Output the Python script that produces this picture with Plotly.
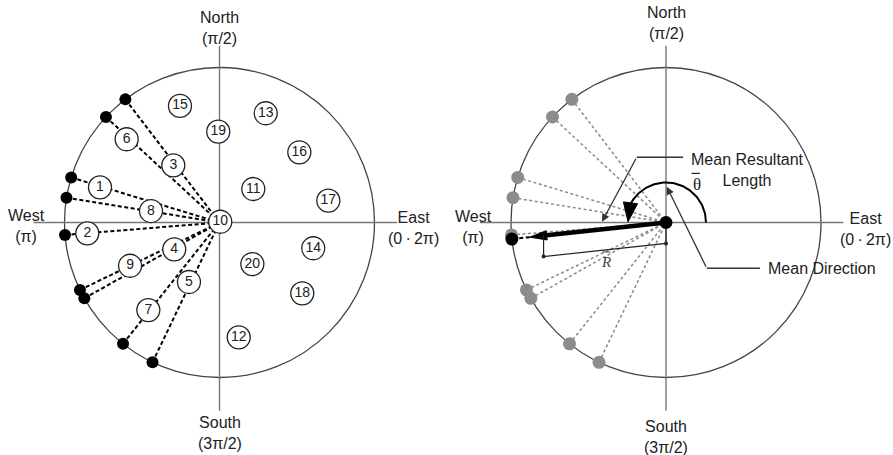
import numpy as np
import plotly.graph_objects as go

# ---------------- data ----------------
subject_ids = [str(i) for i in range(1, 21)]
subject_x = [-0.771, -0.853, -0.298, -0.292, -0.197, -0.599, -0.459, -0.442, -0.577, 0.005,
             0.218, 0.124, 0.298, 0.605, -0.255, 0.515, 0.702, 0.534, -0.008, 0.212]
subject_y = [0.227, -0.070, 0.369, -0.173, -0.384, 0.537, -0.565, 0.074, -0.279, 0.005,
             0.216, -0.741, 0.705, -0.166, 0.752, 0.453, 0.141, -0.457, 0.586, -0.268]
dir_ids = [1, 2, 3, 4, 5, 6, 7, 8, 9]
dir_deg = [163.1, 184.6, 127.4, 209.3, 244.4, 137.1, 231.5, 170.8, 205.8]

compass_text = ["North<br>(π/2)", "South<br>(3π/2)", "West<br>(π)", "East<br>(0\u2009·\u20092π)"]
annot_text = ["Mean Resultant<br>Length", "Mean Direction"]

# ---------------- geometry / style ----------------
SCALE = 155.0               # px per unit radius
W, H = 893, 455
LCX, LCY = 219.5, 222.5     # pixel of left centre
C1 = 0.0
C2 = (666.0 - LCX) / SCALE  # right panel centre (data units)

FONT = "Liberation Sans, Arial, sans-serif"
SERIF = "Liberation Serif, Times New Roman, serif"
TXT = "#222222"

th = np.radians(dir_deg)
cx, sy = np.cos(th), np.sin(th)
Cbar, Sbar = cx.mean(), sy.mean()
Rbar = float(np.hypot(Cbar, Sbar))
phi = float(np.arctan2(Sbar, Cbar))
ux, uy = np.cos(phi), np.sin(phi)

fig = go.Figure()


def seg_trace(segs, color, width, dash, name=""):
    xs, ys = [], []
    for (x0, y0, x1, y1) in segs:
        xs += [x0, x1, None]
        ys += [y0, y1, None]
    return go.Scatter(x=xs, y=ys, mode="lines", line=dict(color=color, width=width, dash=dash),
                      hoverinfo="skip", name=name)


def tri(tip, base, hw):
    dx, dy = tip[0] - base[0], tip[1] - base[1]
    L = np.hypot(dx, dy)
    nx, ny = -dy / L * hw, dx / L * hw
    return [base[0] + nx, tip[0], base[0] - nx, base[0] + nx], [base[1] + ny, tip[1], base[1] - ny, base[1] + ny]


# ---- left panel: dashed lines from centre (subject 10) to projected directions
fig.add_trace(seg_trace([(C1 + c, s, C1 + 0.0, 0.0) for c, s in zip(cx, sy)],
                        "black", 2.0, "4px,2.5px"))
fig.add_trace(go.Scatter(x=C1 + cx, y=sy, mode="markers",
                         marker=dict(size=12, color="black"), hoverinfo="skip"))
fig.add_trace(go.Scatter(x=[C1 + v for v in subject_x], y=subject_y, mode="markers+text",
                         text=subject_ids, textposition="middle center",
                         textfont=dict(family=FONT, size=14, color=TXT),
                         marker=dict(size=23, color="white", line=dict(color="#222", width=1.3)),
                         hoverinfo="skip"))

# ---- right panel
fig.add_trace(seg_trace([(C2 + c, s, C2, 0.0) for c, s in zip(cx, sy)],
                        "#8a8a8a", 1.5, "3px,2.5px"))
fig.add_trace(go.Scatter(x=C2 + cx, y=sy, mode="markers",
                         marker=dict(size=13, color="#8c8c8c"), hoverinfo="skip"))

# mean resultant vector
L_tip = Rbar + 0.09
head_len = 0.11
tip = (C2 + ux * L_tip, uy * L_tip)
base = (C2 + ux * (L_tip - head_len), uy * (L_tip - head_len))
fig.add_trace(seg_trace([(tip[0], tip[1], C2 + ux, uy)], "black", 2.0, "4px,2.5px"))
fig.add_trace(go.Scatter(x=[C2 + ux], y=[uy], mode="markers",
                         marker=dict(size=13, color="black"), hoverinfo="skip"))
fig.add_trace(go.Scatter(x=[C2, base[0]], y=[0, base[1]], mode="lines",
                         line=dict(color="black", width=4.5), hoverinfo="skip"))
txs, tys = tri(tip, base, 0.03)
fig.add_trace(go.Scatter(x=txs, y=tys, mode="lines", fill="toself", fillcolor="black",
                         line=dict(color="black", width=1), hoverinfo="skip"))

# bracket showing R-bar
off = 0.135
Rx, Ry = C2 + ux * Rbar, uy * Rbar
fig.add_trace(go.Scatter(x=[C2, C2, Rx, Rx], y=[0, -off, Ry - off, Ry], mode="lines",
                         line=dict(color="#222", width=1.2), hoverinfo="skip"))
fig.add_trace(go.Scatter(x=[C2, Rx], y=[-off, Ry - off], mode="markers",
                         marker=dict(size=4, color="#222"), hoverinfo="skip"))

# centre dot
fig.add_trace(go.Scatter(x=[C2], y=[0], mode="markers",
                         marker=dict(size=13, color="black"), hoverinfo="skip"))

# mean direction arc
ra = 0.258
arc_t = np.radians(np.linspace(0, 151, 80))
fig.add_trace(go.Scatter(x=C2 + ra * np.cos(arc_t), y=ra * np.sin(arc_t), mode="lines",
                         line=dict(color="black", width=2), hoverinfo="skip"))
a_tip = (C2 + 0.245 * np.cos(np.radians(179)), 0.245 * np.sin(np.radians(179)))
a_base = (C2 + 0.262 * np.cos(np.radians(151)), 0.262 * np.sin(np.radians(151)))
axs, ays = tri(a_tip, a_base, 0.046)
fig.add_trace(go.Scatter(x=axs, y=ays, mode="lines", fill="toself", fillcolor="black",
                         line=dict(color="black", width=1), hoverinfo="skip"))

# leader lines
fig.add_trace(go.Scatter(x=[C2 + 0.110, C2 - 0.189], y=[0.421, 0.421], mode="lines",
                         line=dict(color="#333", width=1.3), hoverinfo="skip"))
fig.add_trace(go.Scatter(x=[C2 + 0.606, C2 + 0.263], y=[-0.295, -0.295], mode="lines",
                         line=dict(color="#333", width=1.3), hoverinfo="skip"))

annotations = []
annotations.append(dict(x=C2 - 0.413, y=0.005, ax=C2 - 0.189, ay=0.421, xref="x", yref="y",
                        axref="x", ayref="y", text="", showarrow=True, arrowhead=2,
                        arrowsize=1.2, arrowwidth=1.3, arrowcolor="#333", standoff=0))
annotations.append(dict(x=C2 + 0.005, y=0.231, ax=C2 + 0.263, ay=-0.295, xref="x", yref="y",
                        axref="x", ayref="y", text="", showarrow=True, arrowhead=2,
                        arrowsize=1.2, arrowwidth=1.3, arrowcolor="#333", standoff=0))

# compass labels (per panel positions)
label_pos = {
    C1: [(0.0, 1.258), (0.0, -1.358), (-1.244, -0.021), (1.253, -0.037)],
    C2: [(0.0, 1.289), (0.0, -1.384), (-1.242, -0.027), (1.284, -0.041)],
}
for c0, poss in label_pos.items():
    for t, (px, py) in zip(compass_text, poss):
        annotations.append(dict(x=c0 + px, y=py, xref="x", yref="y", text=t, showarrow=False,
                                xanchor="center", yanchor="middle", align="center",
                                font=dict(family=FONT, size=16, color=TXT)))

annotations.append(dict(x=C2 + 0.523, y=0.341, xref="x", yref="y", text=annot_text[0],
                        showarrow=False, xanchor="center", yanchor="middle", align="center",
                        font=dict(family=FONT, size=16, color=TXT)))
annotations.append(dict(x=C2 + 0.645, y=-0.295, xref="x", yref="y", text=annot_text[1],
                        showarrow=False, xanchor="left", yanchor="middle",
                        font=dict(family=FONT, size=16, color=TXT)))
annotations.append(dict(x=C2 + 0.197, y=0.245, xref="x", yref="y", text="θ",
                        showarrow=False, xanchor="center", yanchor="middle",
                        font=dict(family=SERIF, size=17, color=TXT)))
annotations.append(dict(x=C2 - 0.385, y=-0.252, xref="x", yref="y", text="<i>R</i>",
                        showarrow=False, xanchor="center", yanchor="middle",
                        font=dict(family=SERIF, size=15, color="#444")))

shapes = []
for c0 in (C1, C2):
    shapes.append(dict(type="circle", xref="x", yref="y", x0=c0 - 1, x1=c0 + 1, y0=-1, y1=1,
                       line=dict(color="#444", width=1.3), layer="below"))
    shapes.append(dict(type="line", xref="x", yref="y", x0=c0 - 1.2, x1=c0 + 1.145, y0=0, y1=0,
                       line=dict(color="#777", width=1.4), layer="below"))
    shapes.append(dict(type="line", xref="x", yref="y", x0=c0, x1=c0, y0=1.14, y1=-1.215,
                       line=dict(color="#777", width=1.4), layer="below"))
# overbars for theta-bar and R-bar
shapes.append(dict(type="line", xref="x", yref="y", x0=C2 + 0.165, x1=C2 + 0.219,
                   y0=0.317, y1=0.317, line=dict(color=TXT, width=1.2)))
shapes.append(dict(type="line", xref="x", yref="y", x0=C2 - 0.41, x1=C2 - 0.358,
                   y0=-0.19, y1=-0.19, line=dict(color="#555", width=1.1)))

fig.update_layout(
    width=W, height=H, margin=dict(l=0, r=0, t=0, b=0),
    paper_bgcolor="white", plot_bgcolor="white", showlegend=False, hovermode=False,
    xaxis=dict(range=[-LCX / SCALE, (W - LCX) / SCALE], visible=False, fixedrange=True),
    yaxis=dict(range=[(LCY - H) / SCALE, LCY / SCALE], visible=False, fixedrange=True),
    annotations=annotations, shapes=shapes,
)

fig.write_html("out.html", config={"displayModeBar": False},
               post_script="document.body.style.margin='0';")
